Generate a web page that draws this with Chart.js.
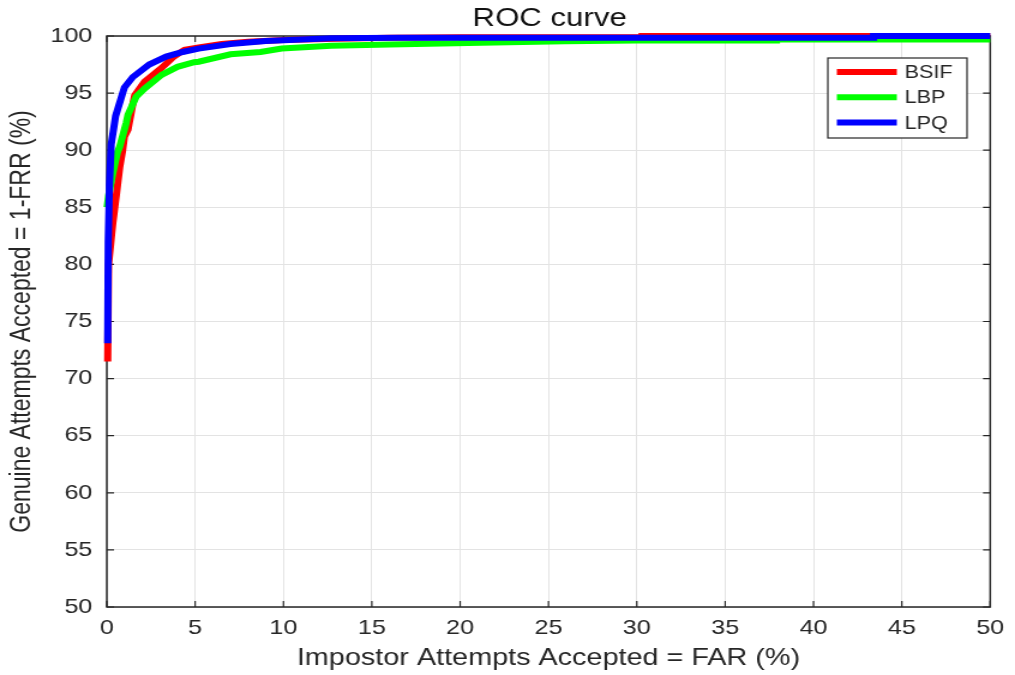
<!DOCTYPE html>
<html lang="en">
<head>
  <meta charset="UTF-8" />
  <title>ROC curve</title>
  <script src="https://cdn.jsdelivr.net/npm/chart.js"></script>
  <style>
    body {
      margin: 0;
      background: #ffffff;
      overflow: hidden;
    }
    /* the figure is laid out narrower and stretched out to the window width */
    .figure {
      width: 846px;
      height: 675px;
      transform: scaleX(1.19976);
      transform-origin: 0 0;
    }
  </style>
</head>
<body>
  <div class="figure">
    <canvas id="rocChart" width="846" height="675"></canvas>
  </div>

  <script>
    // FAR (%) / 1-FRR (%) pairs for each descriptor
    const bsifFar = [0.05, 0.1, 0.34, 0.55, 0.73, 0.9, 1.0, 1.2, 1.47, 1.58, 2.14, 3.1, 3.8, 4.4, 5.2, 6.5, 8, 10, 13, 16, 20, 25, 30.3, 30.3, 40, 50];
    const bsifGar = [71.5, 80, 83.6, 86.2, 88.5, 90, 91.2, 91.8, 94.0, 94.8, 96.0, 97.2, 98.2, 98.8, 99.0, 99.3, 99.5, 99.65, 99.75, 99.85, 99.88, 99.9, 99.9, 100, 100, 100];

    const lbpFar = [0.02, 0.1, 0.34, 0.6, 0.73, 1.1, 1.2, 1.67, 2.14, 3.1, 4.0, 4.95, 5.2, 7.0, 8.7, 9.9, 12.7, 16, 21.2, 25.9, 30, 37.9, 37.9, 50];
    const lbpGar = [85.0, 86.0, 88.0, 89.8, 90.3, 92.4, 93.1, 94.7, 95.4, 96.6, 97.3, 97.7, 97.75, 98.4, 98.6, 98.9, 99.15, 99.25, 99.4, 99.55, 99.6, 99.6, 99.7, 99.7];

    const lpqFar = [0.05, 0.08, 0.15, 0.25, 0.5, 0.9, 1.0, 1.47, 2.4, 3.36, 4.3, 5.2, 7, 9, 12.7, 16.5, 22, 30, 43.4, 43.4, 50];
    const lpqGar = [73.1, 82, 87, 90.5, 93, 95.0, 95.5, 96.4, 97.5, 98.2, 98.6, 98.9, 99.3, 99.56, 99.8, 99.85, 99.85, 99.85, 99.85, 100, 100];

    const seriesNames = ['BSIF', 'LBP', 'LPQ'];
    const seriesColors = ['#ff0000', '#00ff00', '#0000ff'];

    const xTickStep = 5;
    const yTickStep = 5;

    const toPoints = (xs, ys) => xs.map((x, i) => ({ x: x, y: ys[i] }));

    const axisColor = '#262626';
    const fontFamily = "'Liberation Sans', Arial, sans-serif";

    // title, box, inward tick marks and the legend, drawn like a MATLAB figure
    const figureDecor = {
      id: 'figureDecor',
      beforeDatasetsDraw(chart) {
        const { ctx, chartArea: a, scales } = chart;
        ctx.save();
        ctx.strokeStyle = axisColor;
        ctx.lineWidth = 1.5;
        ctx.strokeRect(a.left, a.top, a.right - a.left, a.bottom - a.top);
        ctx.lineWidth = 1.2;
        ctx.beginPath();
        scales.x.ticks.forEach((t) => {
          const px = scales.x.getPixelForValue(t.value);
          ctx.moveTo(px, a.bottom); ctx.lineTo(px, a.bottom - 6);
          ctx.moveTo(px, a.top); ctx.lineTo(px, a.top + 6);
        });
        scales.y.ticks.forEach((t) => {
          const py = scales.y.getPixelForValue(t.value);
          ctx.moveTo(a.left, py); ctx.lineTo(a.left + 6, py);
          ctx.moveTo(a.right, py); ctx.lineTo(a.right - 6, py);
        });
        ctx.stroke();
        ctx.restore();
      },
      afterDraw(chart) {
        const { ctx, chartArea: a } = chart;
        ctx.save();
        ctx.fillStyle = '#111111';
        ctx.font = '26px ' + fontFamily;
        ctx.textAlign = 'center';
        ctx.textBaseline = 'middle';
        ctx.fillText('ROC curve', (a.left + a.right) / 2 + 1, 19);

        // legend box in the upper right corner
        const bx = 690, by = 58, bw = 116, bh = 80;
        ctx.fillStyle = '#ffffff';
        ctx.fillRect(bx, by, bw, bh);
        ctx.strokeStyle = axisColor;
        ctx.lineWidth = 1.2;
        ctx.strokeRect(bx, by, bw, bh);
        ctx.font = '18px ' + fontFamily;
        ctx.textAlign = 'left';
        seriesNames.forEach((name, i) => {
          const rowY = 72 + i * 25.3;
          ctx.strokeStyle = seriesColors[i];
          ctx.lineWidth = 6;
          ctx.beginPath();
          ctx.moveTo(697.5, rowY);
          ctx.lineTo(747.5, rowY);
          ctx.stroke();
          ctx.fillStyle = axisColor;
          ctx.fillText(name, 754, rowY + 1);
        });
        ctx.restore();
      }
    };

    const ctx = document.getElementById('rocChart').getContext('2d');
    new Chart(ctx, {
      type: 'scatter',
      data: {
        datasets: [
          { label: seriesNames[0], data: toPoints(bsifFar, bsifGar), order: 3 },
          { label: seriesNames[1], data: toPoints(lbpFar, lbpGar), order: 2 },
          { label: seriesNames[2], data: toPoints(lpqFar, lpqGar), order: 1 }
        ].map((d, i) => Object.assign(d, {
          showLine: true,
          borderColor: seriesColors[i],
          backgroundColor: seriesColors[i],
          borderWidth: 6,
          pointRadius: 0,
          pointHoverRadius: 0,
          tension: 0,
          clip: 8
        }))
      },
      options: {
        responsive: false,
        animation: false,
        devicePixelRatio: 1,
        layout: { padding: { top: 36, right: 17, bottom: 0, left: 0 } },
        plugins: {
          legend: { display: false },
          tooltip: { enabled: false }
        },
        scales: {
          x: {
            type: 'linear',
            min: 0,
            max: 50,
            afterFit: (scale) => { scale.height = 68; },
            ticks: {
              stepSize: xTickStep,
              padding: 9,
              color: axisColor,
              font: { family: fontFamily, size: 21 }
            },
            grid: { color: '#e3e3e3', lineWidth: 1, drawTicks: false },
            border: { display: false },
            title: {
              display: true,
              text: 'Impostor Attempts Accepted = FAR (%)',
              color: axisColor,
              font: { family: fontFamily, size: 24 },
              padding: { top: 0, bottom: 2 }
            }
          },
          y: {
            type: 'linear',
            min: 50,
            max: 100,
            afterFit: (scale) => { scale.width = 89; },
            ticks: {
              stepSize: yTickStep,
              padding: 12,
              color: axisColor,
              font: { family: fontFamily, size: 21 }
            },
            grid: { color: '#e3e3e3', lineWidth: 1, drawTicks: false },
            border: { display: false },
            title: {
              display: true,
              text: 'Genuine Attempts Accepted = 1-FRR (%)',
              color: axisColor,
              font: { family: fontFamily, size: 23 },
              padding: { top: 5, bottom: 0 }
            }
          }
        }
      },
      plugins: [figureDecor]
    });
  </script>
</body>
</html>
